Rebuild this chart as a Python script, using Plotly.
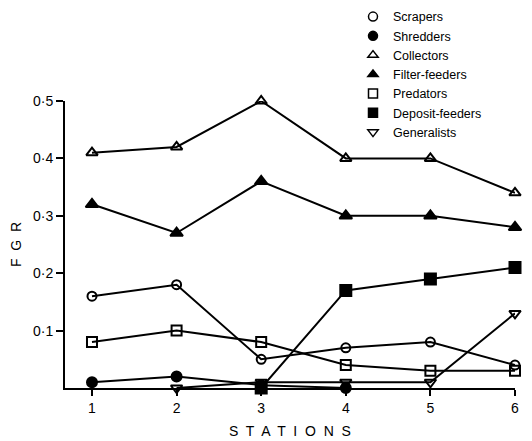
import plotly.graph_objects as go

stations = [1, 2, 3, 4, 5, 6]

scrapers = [0.16, 0.18, 0.05, 0.07, 0.08, 0.04]
shredders = [0.01, 0.02, 0.005, 0.0, None, None]
collectors = [0.41, 0.42, 0.50, 0.40, 0.40, 0.34]
filter_feeders = [0.32, 0.27, 0.36, 0.30, 0.30, 0.28]
predators = [0.08, 0.10, 0.08, 0.04, 0.03, 0.03]
deposit_feeders = [None, None, 0.0, 0.17, 0.19, 0.21]
generalists = [None, 0.0, 0.01, 0.01, 0.01, 0.13]

y_ticks = [0.1, 0.2, 0.3, 0.4, 0.5]
y_tick_labels = ["0·1", "0·2", "0·3", "0·4", "0·5"]

series = [
    ("Scrapers", scrapers, "circle-open", 9),
    ("Shredders", shredders, "circle", 10),
    ("Collectors", collectors, "triangle-up-open", 10),
    ("Filter-feeders", filter_feeders, "triangle-up", 11),
    ("Predators", predators, "square-open", 10),
    ("Deposit-feeders", deposit_feeders, "square", 11),
    ("Generalists", generalists, "triangle-down-open", 10),
]

FONT = "Liberation Sans, DejaVu Sans, sans-serif"

fig = go.Figure()

for name, vals, sym, size in series:
    fig.add_trace(go.Scatter(
        x=stations, y=vals, mode="lines+markers", name=name,
        showlegend=False, connectgaps=False, cliponaxis=False,
        line=dict(color="black", width=2),
        marker=dict(symbol=sym, size=size, color="black",
                    line=dict(color="black", width=2)),
    ))

# marker-only legend entries
for name, vals, sym, size in series:
    fig.add_trace(go.Scatter(
        x=[None], y=[None], mode="markers", name=name, showlegend=True,
        marker=dict(symbol=sym, size=9, color="black",
                    line=dict(color="black", width=1.5)),
    ))

fig.update_layout(
    width=532, height=441,
    margin=dict(l=65, r=17, t=101, b=53, autoexpand=False),
    paper_bgcolor="white", plot_bgcolor="white",
    font=dict(family=FONT, size=14, color="black"),
    legend=dict(x=0.64, y=1.345, xanchor="left", yanchor="top",
                bgcolor="rgba(0,0,0,0)", tracegroupgap=0,
                font=dict(family=FONT, size=12.5, color="black")),
    xaxis=dict(range=[0.681, 6], tickvals=stations,
               ticktext=[str(s) for s in stations],
               showline=True, linecolor="black", linewidth=2,
               ticks="outside", ticklen=6, tickwidth=2, tickcolor="black",
               showgrid=False, zeroline=False,
               tickfont=dict(size=14)),
    yaxis=dict(range=[0, 0.5], tickvals=y_ticks, ticktext=y_tick_labels,
               showline=True, linecolor="black", linewidth=2,
               ticks="outside", ticklen=7, tickwidth=2, tickcolor="black",
               showgrid=False, zeroline=False,
               tickfont=dict(size=14)),
    annotations=[
        dict(text="F  G  R", xref="paper", yref="paper", x=-0.11, y=0.5,
             xanchor="center", yanchor="middle",
             showarrow=False, textangle=-90,
             font=dict(family=FONT, size=14, color="black")),
        dict(text="S  T  A  T  I  O  N  S", xref="paper", yref="paper",
             x=0.5, y=-0.15,
             xanchor="center", yanchor="middle", showarrow=False,
             font=dict(family=FONT, size=14, color="black")),
    ],
)

fig.write_html("out.html")
